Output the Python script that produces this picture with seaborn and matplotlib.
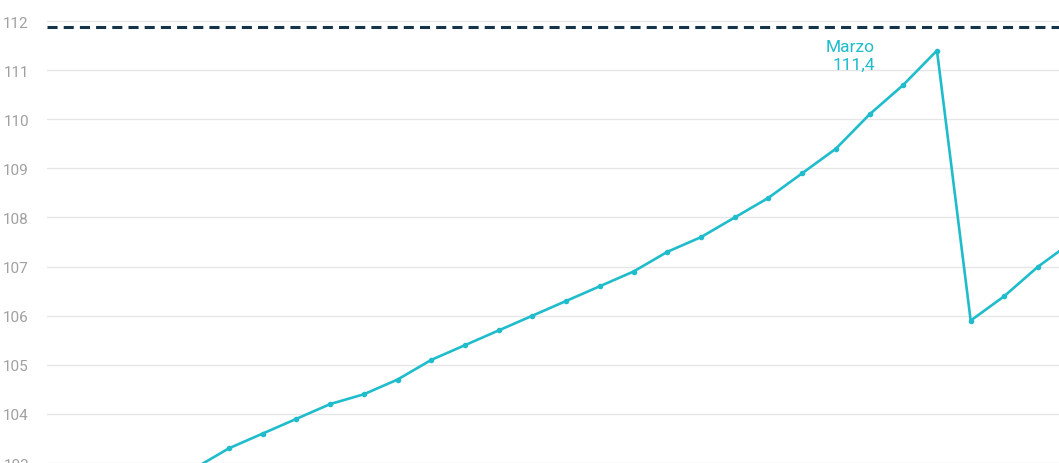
import numpy as np
import pandas as pd
import matplotlib
matplotlib.use("Agg")
import matplotlib.pyplot as plt
import seaborn as sns

meses = ["Mayo", "Junio", "Julio", "Agosto", "Septiembre", "Octubre", "Noviembre",
         "Diciembre", "Enero", "Febrero", "Marzo", "Abril",
         "Mayo", "Junio", "Julio", "Agosto", "Septiembre", "Octubre", "Noviembre",
         "Diciembre", "Enero", "Febrero", "Marzo", "Abril",
         "Mayo", "Junio", "Julio"]
valores = [102.9, 103.3, 103.6, 103.9, 104.2, 104.4, 104.7, 105.1, 105.4, 105.7,
           106.0, 106.3, 106.6, 106.9, 107.3, 107.6, 108.0, 108.4, 108.9, 109.4,
           110.1, 110.7, 111.4, 105.9, 106.4, 107.0, 107.5]
referencia = 111.88
y_ticks = [103, 104, 105, 106, 107, 108, 109, 110, 111, 112]

teal = "#1fbccc"
navy = "#15344a"

sns.set_style("white")
plt.rcParams["font.family"] = ["Roboto", "DejaVu Sans"]

df = pd.DataFrame({"pos": np.arange(len(valores)), "mes": meses, "valor": valores})

fig = plt.figure(figsize=(10.59, 4.64), dpi=100)
ax = fig.add_axes([47 / 1059, 0, 1 - 47 / 1059, 1])

sns.lineplot(data=df, x="pos", y="valor", ax=ax, color=teal, linewidth=1.9,
             marker="o", markersize=4, markeredgewidth=0, zorder=3)
ax.axhline(referencia, color=navy, linewidth=2.2, linestyle=(0, (3.3, 2)), zorder=2)

# etiqueta del máximo
pico = int(np.argmax(valores))
ax.annotate(f"{df['mes'][pico]}\n{str(valores[pico]).replace('.', ',')}",
            xy=(pico, valores[pico]), xytext=(-62, -5), textcoords="offset pixels",
            ha="right", va="center", color=teal, fontsize=12.5, linespacing=1.25)

ax.set_xlim(-4.40, 25.62)
ax.set_ylim(103.0, 112.45)
ax.set_yticks(y_ticks)
ax.set_xticks([])
ax.yaxis.grid(True, color="#e6e6e6", linewidth=1)
ax.tick_params(axis="y", length=0, pad=13, labelcolor="#a0a0a0", labelsize=11)
ax.set_xlabel("")
ax.set_ylabel("")
for s in ax.spines.values():
    s.set_visible(False)

fig.savefig("out.png", dpi=100)
